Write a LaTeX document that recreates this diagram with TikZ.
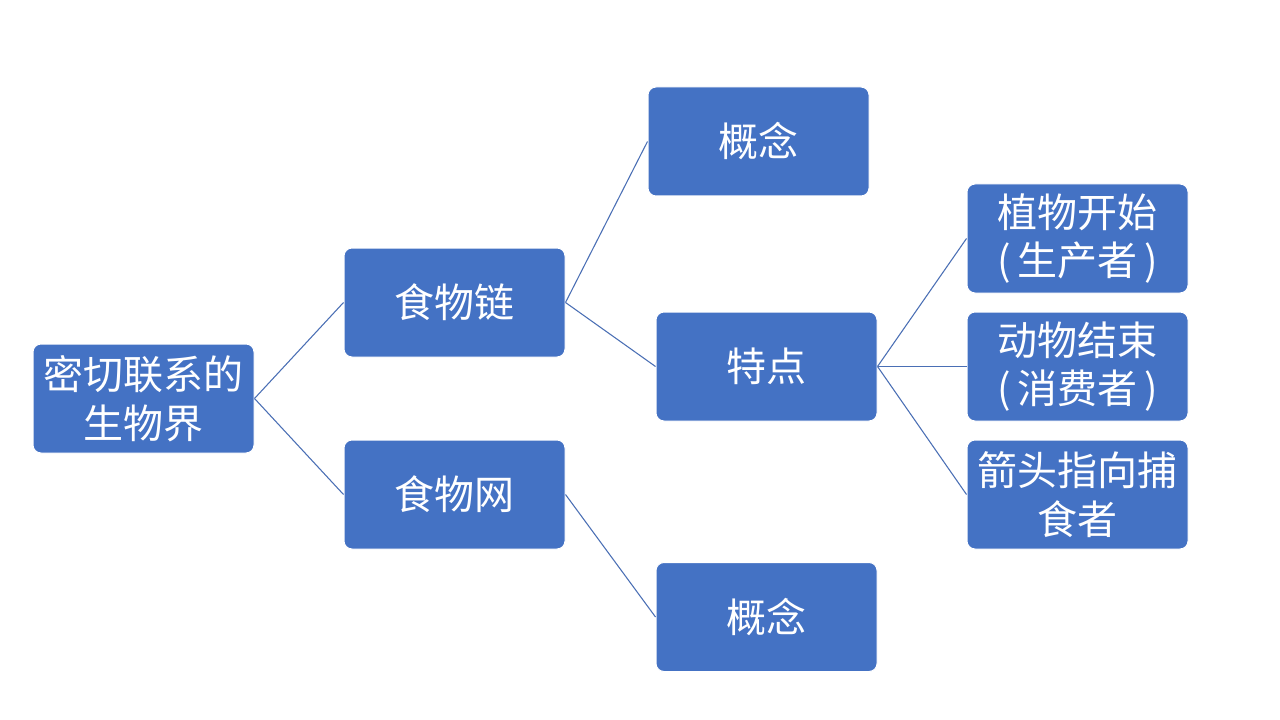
\documentclass[tikz,border=0pt]{standalone}
\usepackage{fontspec}
\newfontfamily\cjk{Noto Sans CJK SC}
\definecolor{boxblue}{HTML}{4472C4}
\definecolor{lineblue}{HTML}{4A6FB5}
\begin{document}
\begin{tikzpicture}[x=0.75pt,y=-0.75pt,
  box/.style={rectangle, rounded corners=6pt, fill=boxblue, draw=white, line width=0.75pt,
    minimum width=165.75pt, minimum height=81.75pt, inner sep=0pt,
    text=white, align=center, font=\cjk\fontsize{30}{36.5}\selectfont},
  conn/.style={draw=lineblue, line width=0.8pt}]
\useasboundingbox (0,0) rectangle (1280,720);
\fill[white] (0,0) rectangle (1280,720);
\node[box] (root) at (143.5,398.5) {密切联系的\\生物界};
\node[box] (chain) at (454.5,302.5) {食物链};
\node[box] (web) at (454.5,494.5) {食物网};
\node[box] (c1) at (758.5,141.5) {概念};
\node[box] (feat) at (766.5,366.5) {特点};
\node[box] (c2) at (766.5,617) {概念};
\node[box] (plant) at (1077.5,238.5) {植物开始\\(\,生产者\,)};
\node[box] (animal) at (1077.5,366.5) {动物结束\\(\,消费者\,)};
\node[box] (arrow) at (1077.5,494.5) {箭头指向捕\\食者};
\draw[conn] (root.east) -- (chain.west);
\draw[conn] (root.east) -- (web.west);
\draw[conn] (chain.east) -- (c1.west);
\draw[conn] (chain.east) -- (feat.west);
\draw[conn] (web.east) -- (c2.west);
\draw[conn] (feat.east) -- (plant.west);
\draw[conn] (feat.east) -- (animal.west);
\draw[conn] (feat.east) -- (arrow.west);
\end{tikzpicture}
\end{document}
